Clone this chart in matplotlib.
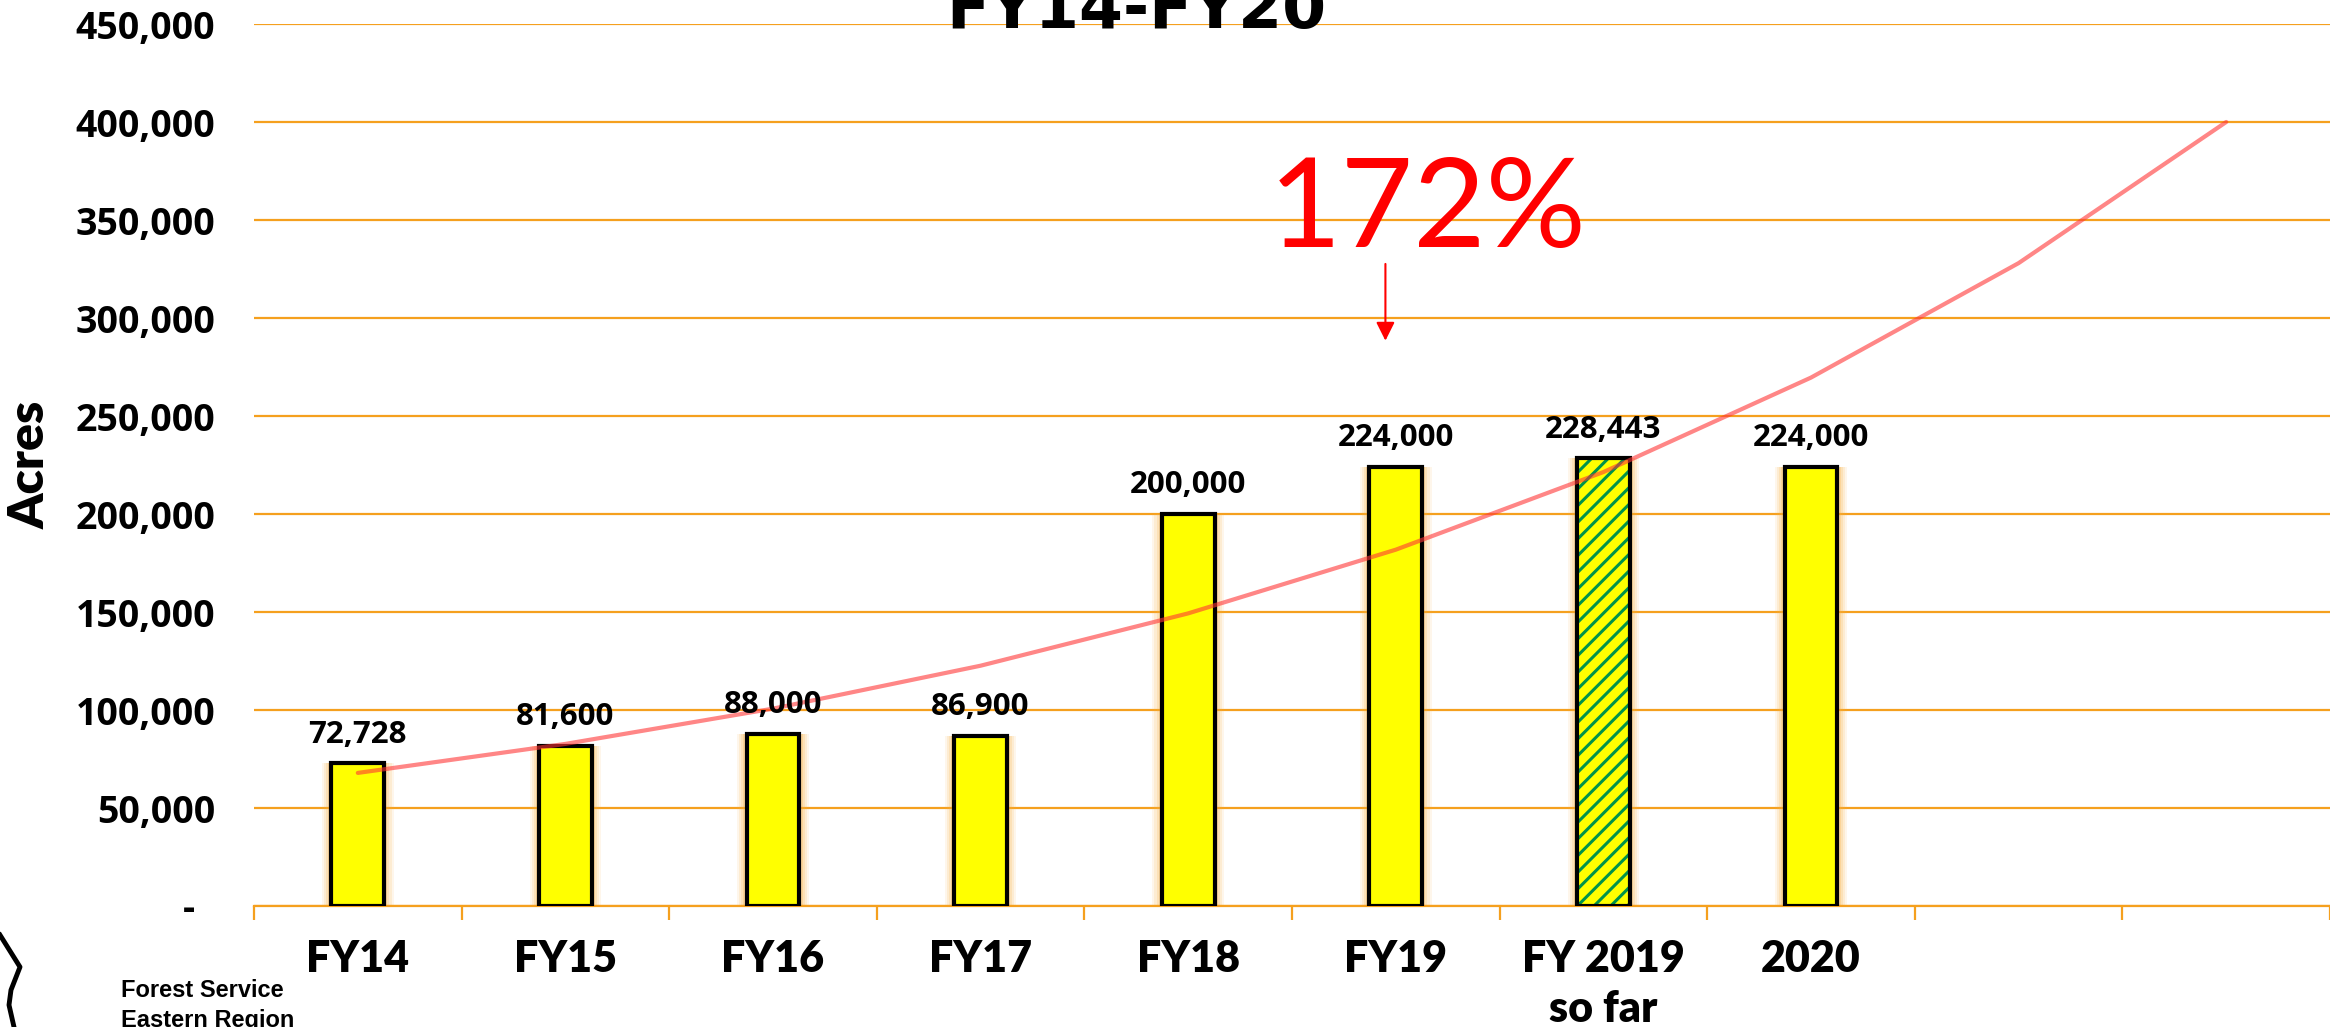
import matplotlib.pyplot as plt
import numpy as np

categories = ["FY14", "FY15", "FY16", "FY17", "FY18", "FY19", "FY 2019\nso far", "2020", "", ""]
acres = [72728, 81600, 88000, 86900, 200000, 224000, 228443, 224000]
value_labels = ["72,728", "81,600", "88,000", "86,900", "200,000", "224,000", "228,443", "224,000"]
hatched = [False, False, False, False, False, False, True, False]
# exponential trend line at each category centre
trend = [67900, 82700, 100700, 122600, 149300, 181800, 221400, 269600, 328000, 400000]
yticks = [0, 50000, 100000, 150000, 200000, 250000, 300000, 350000, 400000, 450000]
ytick_labels = ["-  ", "50,000", "100,000", "150,000", "200,000", "250,000",
                "300,000", "350,000", "400,000", "450,000"]

W, H = 2330, 1027
fig = plt.figure(figsize=(W / 100, H / 100), dpi=100)
ax = fig.add_axes([254 / W, 1 - 906 / H, 1 - 254 / W, (906 - 24) / H])

orange = "#F5A01E"
x = np.arange(len(categories))
xb = x[:len(acres)]
bw = 0.255

# soft glow behind bars
for k, a in zip([0.09, 0.07, 0.05, 0.03], [0.10, 0.14, 0.18, 0.25]):
    ax.bar(xb, acres, width=bw + k, color="#F9B040", alpha=a, linewidth=0, zorder=2)

plt.rcParams["hatch.linewidth"] = 2.2
for i in range(len(acres)):
    if hatched[i]:
        ax.bar(xb[i], acres[i], width=bw, color="#FFFF00", edgecolor="#00934A",
               hatch="//", linewidth=0, zorder=3)
    else:
        ax.bar(xb[i], acres[i], width=bw, color="#FFFF00", linewidth=0, zorder=3)
ax.bar(xb, acres, width=bw, facecolor="none", edgecolor="black", linewidth=3, zorder=4)

for i in range(len(acres)):
    ax.text(xb[i], acres[i] + 7000, value_labels[i], ha="center", va="bottom",
            fontsize=22.5, fontweight="bold", family="Open Sans", zorder=6)

ax.plot(x, trend, color="#FF3535", alpha=0.6, linewidth=3, solid_capstyle="round", zorder=5)

ax.set_xlim(-0.5, len(categories) - 0.5)
ax.set_ylim(0, 450000)
ax.set_yticks(yticks)
ax.set_yticklabels(ytick_labels, fontsize=27, fontweight="bold", family="Open Sans")
ax.tick_params(axis="y", length=0, pad=28)
ax.yaxis.grid(True, color=orange, linewidth=1.6)
ax.set_axisbelow(True)

ax.set_xticks(np.arange(-0.5, len(categories), 1.0))
ax.set_xticklabels([])
ax.tick_params(axis="x", which="major", length=10, width=1.6, color=orange)
ax.set_xticks(x, minor=True)
ax.set_xticklabels(categories, minor=True, fontsize=31, fontweight="heavy",
                   family="Lato", linespacing=1.3)
ax.tick_params(axis="x", which="minor", length=0, pad=24)

for s in ["top", "right", "left"]:
    ax.spines[s].set_visible(False)
ax.spines["bottom"].set_color(orange)
ax.spines["bottom"].set_linewidth(1.6)

fig.text(30 / W, 1 - 465 / H, "Acres", fontsize=36, fontweight="heavy", family="Lato",
         rotation=90, ha="center", va="center")

# 172% callout with arrow
ax.text(5.155, 336000, "172%", color="red", fontsize=90, family="Lato",
        ha="center", va="baseline", zorder=6)
ax.annotate("", xy=(4.95, 287000), xytext=(4.95, 329000),
            arrowprops=dict(arrowstyle="-|>", color="red", lw=1.5, mutation_scale=28), zorder=6)

fig.text(1136 / W, 1 - 28 / H, "FY14-FY20", fontsize=45.5, fontweight="heavy",
         ha="center", va="baseline", family="DejaVu Sans")

fig.text(121 / W, 1 - 997 / H, "Forest Service", fontsize=17, fontweight="bold",
         family="Liberation Sans", va="baseline")
fig.text(121 / W, 1 - 1027 / H, "Eastern Region", fontsize=17, fontweight="bold",
         family="Liberation Sans", va="baseline")

# partial shield outline of the logo at the bottom-left corner
sx = np.array([0, 20, 11, 9, 14]) / W
sy = 1 - np.array([935, 967, 990, 1005, 1027]) / H
fig.add_artist(plt.Line2D(sx, sy, color="black", linewidth=3.5, transform=fig.transFigure))

fig.savefig("out.png", dpi=100)
